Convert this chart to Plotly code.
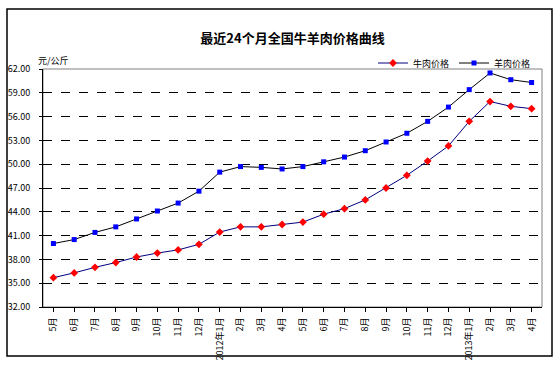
import plotly.graph_objects as go

months = ["5月", "6月", "7月", "8月", "9月", "10月", "11月", "12月",
          "2012年1月", "2月", "3月", "4月", "5月", "6月", "7月", "8月", "9月", "10月", "11月", "12月",
          "2013年1月", "2月", "3月", "4月"]
beef = [35.7, 36.3, 37.0, 37.6, 38.3, 38.8, 39.2, 39.9,
        41.45, 42.1, 42.1, 42.4, 42.7, 43.7, 44.4, 45.5, 47.0, 48.6, 50.4, 52.3,
        55.4, 57.9, 57.3, 57.0]
mutton = [40.0, 40.5, 41.4, 42.1, 43.1, 44.1, 45.1, 46.6,
          49.0, 49.7, 49.6, 49.4, 49.7, 50.3, 50.9, 51.7, 52.8, 53.9, 55.4, 57.2,
          59.4, 61.5, 60.65, 60.3]
yticks = [32, 35, 38, 41, 44, 47, 50, 53, 56, 59, 62]

x_idx = list(range(len(months)))
FONT = "Noto Sans CJK SC, DejaVu Sans"

fig = go.Figure()
fig.add_trace(go.Scatter(x=x_idx, y=beef, name="牛肉价格", mode="lines+markers",
                         line=dict(color="#000080", width=1),
                         marker=dict(color="#ff0000", symbol="diamond", size=6)))
fig.add_trace(go.Scatter(x=x_idx, y=mutton, name="羊肉价格", mode="lines+markers",
                         line=dict(color="#000000", width=1),
                         marker=dict(color="#0000ff", symbol="square", size=5)))

L, R, T, B = 43, 18, 69, 69
W, H = 560, 376
pw, ph = W - L - R, H - T - B

def px(x):
    return (x - L) / pw

def py(y):
    return 1 - (y - T) / ph

shapes = [
    dict(type="rect", xref="paper", yref="paper", x0=px(7), x1=px(552), y0=py(356), y1=py(9),
         line=dict(color="black", width=1.5), layer="below"),
    dict(type="rect", xref="paper", yref="paper", x0=0, x1=1, y0=0, y1=1,
         line=dict(color="#808080", width=1), layer="below"),
]

fig.update_layout(
    width=W, height=H,
    margin=dict(l=L, r=R, t=T, b=B, autoexpand=False),
    paper_bgcolor="white", plot_bgcolor="white",
    font=dict(family=FONT, size=9, color="black"),
    title=dict(text="<b>最近24个月全国牛羊肉价格曲线</b>", x=0.5, xref="paper", xanchor="center",
               y=1 - 38 / H, yanchor="middle", font=dict(size=13, family=FONT)),
    showlegend=True,
    legend=dict(orientation="h", x=px(536), xanchor="right", y=py(63), yanchor="middle",
                font=dict(size=9), bgcolor="rgba(0,0,0,0)", itemwidth=30,
                tracegroupgap=0),
    shapes=shapes,
    annotations=[dict(text="元/公斤", xref="paper", yref="paper", x=px(36), y=py(61),
                      xanchor="left", yanchor="middle", showarrow=False,
                      font=dict(size=9, family=FONT))],
    xaxis=dict(tickmode="array", tickvals=x_idx, ticktext=months, tickangle=-90,
               range=[-0.5, len(months) - 0.5], showgrid=False, zeroline=False,
               showline=True, linecolor="black", linewidth=1,
               ticks="outside", ticklen=4, tickcolor="black", tickson="boundaries",
               ticklabelstandoff=2,
               tickfont=dict(size=9, family=FONT)),
    yaxis=dict(tickmode="array", tickvals=yticks, ticktext=[f"{v:.2f}" for v in yticks],
               range=[32, 62], showgrid=True, gridcolor="black", griddash="dash", gridwidth=1,
               zeroline=False, showline=True, linecolor="black", linewidth=1,
               ticks="outside", ticklen=3, tickcolor="black", ticklabelstandoff=7,
               tickfont=dict(size=9, family=FONT)),
)

fig.write_html("out.html", config={"displayModeBar": False},
               post_script="document.body.style.margin='0';document.body.style.overflow='hidden';")
